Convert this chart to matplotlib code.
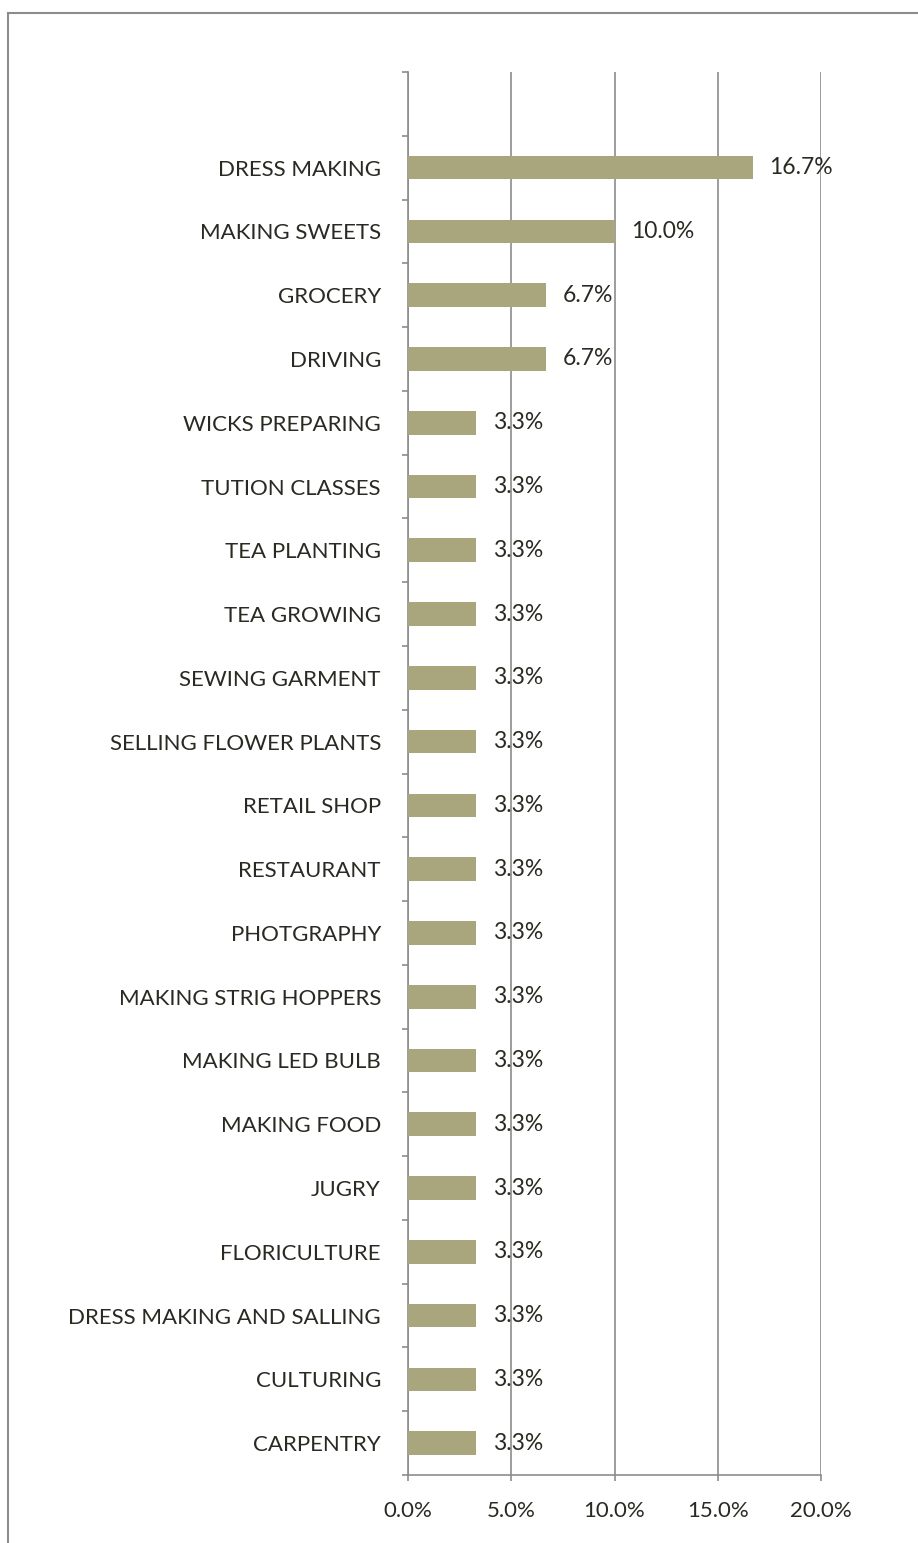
import matplotlib
matplotlib.use("Agg")
import matplotlib.pyplot as plt
from matplotlib.lines import Line2D
from matplotlib.ticker import FuncFormatter

plt.rcParams['font.family'] = ['Lato', 'DejaVu Sans']

# top to bottom; first slot is empty in the original chart
categories = ["", "DRESS MAKING", "MAKING SWEETS", "GROCERY", "DRIVING",
              "WICKS PREPARING", "TUTION CLASSES", "TEA PLANTING",
              "TEA GROWING", "SEWING GARMENT", "SELLING FLOWER PLANTS",
              "RETAIL SHOP", "RESTAURANT", "PHOTGRAPHY",
              "MAKING STRIG HOPPERS", "MAKING LED BULB", "MAKING FOOD",
              "JUGRY", "FLORICULTURE", "DRESS MAKING AND SALLING",
              "CULTURING", "CARPENTRY"]
values = [None, 16.7, 10.0, 6.7, 6.7, 3.3, 3.3, 3.3, 3.3, 3.3, 3.3,
          3.3, 3.3, 3.3, 3.3, 3.3, 3.3, 3.3, 3.3, 3.3, 3.3, 3.3]
xticks = [0, 5, 10, 15, 20]

bar_color = "#A9A57C"
text_color = "#2A2A22"
grid_color = "#8C8C8C"
fs = 16

W, H = 918, 1543
fig = plt.figure(figsize=(W / 100, H / 100), dpi=100)
ax = fig.add_axes([408 / W, 1 - 1475 / H, (821 - 408) / W, (1475 - 72) / H])

n = len(categories)
ys = list(range(n))
for y, v in zip(ys, values):
    if v is None:
        continue
    ax.barh(y, v, height=0.37, color=bar_color, zorder=3)
    ax.text(v + 0.8, y, f"{v:.1f}%", va="center", ha="left",
            fontsize=16.5, color=text_color, zorder=4)

ax.set_ylim(n - 0.5, -0.5)
ax.set_xlim(0, 20)
ax.set_xticks(xticks)
ax.xaxis.set_major_formatter(FuncFormatter(lambda x, p: f"{x:.1f}%"))
ax.set_yticks(ys)
ax.set_yticklabels(categories)
ax.set_yticks([i - 0.5 for i in range(n + 1)], minor=True)

ax.grid(axis="x", color=grid_color, linewidth=1.2, zorder=0)
for s in ["top", "right"]:
    ax.spines[s].set_visible(False)
for s in ["left", "bottom"]:
    ax.spines[s].set_color(grid_color)
    ax.spines[s].set_linewidth(1.2)

ax.tick_params(axis="y", which="major", length=0, pad=19.5,
               labelsize=fs, labelcolor=text_color)
ax.tick_params(axis="y", which="minor", length=4.5, width=1.2, color=grid_color)
ax.tick_params(axis="x", length=4.5, width=1.2, color=grid_color, pad=14,
               labelsize=fs, labelcolor=text_color)

# chart frame (top and left edges visible)
fig.add_artist(Line2D([8 / W, 1], [1 - 13 / H, 1 - 13 / H],
                      transform=fig.transFigure, color="#8C8C8C", lw=1.5))
fig.add_artist(Line2D([8 / W, 8 / W], [0, 1 - 13 / H],
                      transform=fig.transFigure, color="#8C8C8C", lw=1.5))

fig.savefig("out.png", dpi=100)
